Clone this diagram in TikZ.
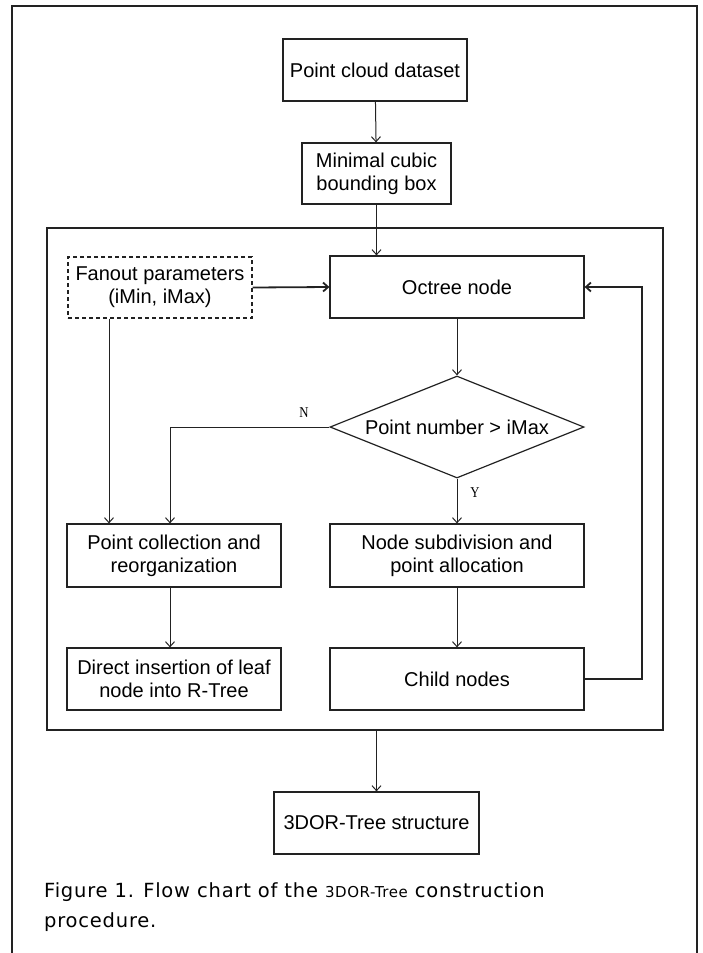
\documentclass[tikz,border=0pt]{standalone}
\usepackage{fontspec}
\setmainfont{Liberation Sans}
\newfontfamily\capfont{DejaVu Sans}[LetterSpace=4]
\newfontfamily\ynfont{Liberation Serif}
\usetikzlibrary{arrows.meta,shapes.geometric}

\definecolor{ink}{HTML}{222222}

\tikzset{
  stepbox/.style={draw=ink, line width=1.2pt, rectangle, align=center,
    inner sep=0pt, font=\fontsize{20}{23}\selectfont},
  parambox/.style={stepbox, dash pattern=on 4pt off 3pt},
  frame/.style={draw=ink, line width=1.5pt},
  flow/.style={draw=ink, line width=1pt, -{Straight Barb[length=5pt,width=9pt]}},
  loopflow/.style={flow, line width=1.8pt},
  yn/.style={font=\ynfont\fontsize{15}{15}\selectfont, inner sep=0pt, xscale=0.85},
  capline/.style={anchor=base west, inner sep=0pt,
    font=\capfont\fontsize{19.5}{22}\selectfont}
}

\begin{document}
\begin{tikzpicture}[x=1pt,y=-1pt]
\useasboundingbox (0,0) rectangle (703,953);

% page frame, open at the bottom
\draw[frame] (12,953) -- (12,6) -- (697,6) -- (697,953);

% input stage
\node[stepbox, minimum width=184pt, minimum height=62pt] (pcd) at (375,70) {Point cloud dataset};
\node[stepbox, minimum width=149pt, minimum height=61pt] (mcb) at (376.5,173.5) {Minimal cubic\\bounding box};

% octree construction loop
\node[frame, rectangle, minimum width=616pt, minimum height=502pt, inner sep=0pt] (loop) at (355,479) {};
\node[parambox, minimum width=184pt, minimum height=61pt] (fan) at (160,287.5) {Fanout parameters\\(iMin, iMax)};
\node[stepbox, minimum width=254pt, minimum height=62pt] (oct) at (457,287) {Octree node};
\node[draw=ink, line width=1.2pt, diamond, aspect=2.5, inner sep=0pt,
      minimum width=254pt, minimum height=102pt,
      font=\fontsize{20}{23}\selectfont] (dia) at (457,427) {Point number > iMax};
\node[stepbox, minimum width=214pt, minimum height=63pt] (pcol) at (174,555.5) {Point collection and\\reorganization};
\node[stepbox, minimum width=254pt, minimum height=63pt] (nsub) at (457,555.5) {Node subdivision and\\point allocation};
\node[stepbox, minimum width=214pt, minimum height=62pt] (dins) at (174,679) {Direct insertion of leaf\\node into R-Tree};
\node[stepbox, minimum width=254pt, minimum height=62pt] (child) at (457,679) {Child nodes};

% output
\node[stepbox, minimum width=205pt, minimum height=62pt] (tdor) at (376.5,823) {3DOR-Tree structure};

% connectors
\draw[flow] (pcd) -- (mcb);
\draw[flow] (mcb.south) -- (mcb.south |- oct.north);
\draw[loopflow] (fan.east) -- (oct.west);
\draw[flow] (oct) -- (dia);
\draw[flow] (dia.west) -| ([xshift=-4pt]pcol.north);
\node[yn] (nlab) at (304,413) {N};
\draw[flow] ([xshift=-51pt]fan.south) -- ([xshift=-51pt]fan.south |- pcol.north);
\draw[flow] (dia.south) -- (nsub.north);
\node[yn] (ylab) at (475,493) {Y};
\draw[flow] (nsub) -- (child);
\draw[flow] ([xshift=-4pt]pcol.south) -- ([xshift=-4pt]dins.north);
\draw[loopflow] (child.east) -- ++(57,0) |- (oct.east);
\draw[flow] (tdor.north |- loop.south) -- (tdor.north);

% caption
\node[capline] (cap1) at (44,897) {Figure 1. Flow chart of the {\fontsize{15}{18}\selectfont 3DOR-Tree} construction};
\node[capline] (cap2) at (44,927) {procedure.};
\end{tikzpicture}
\end{document}
